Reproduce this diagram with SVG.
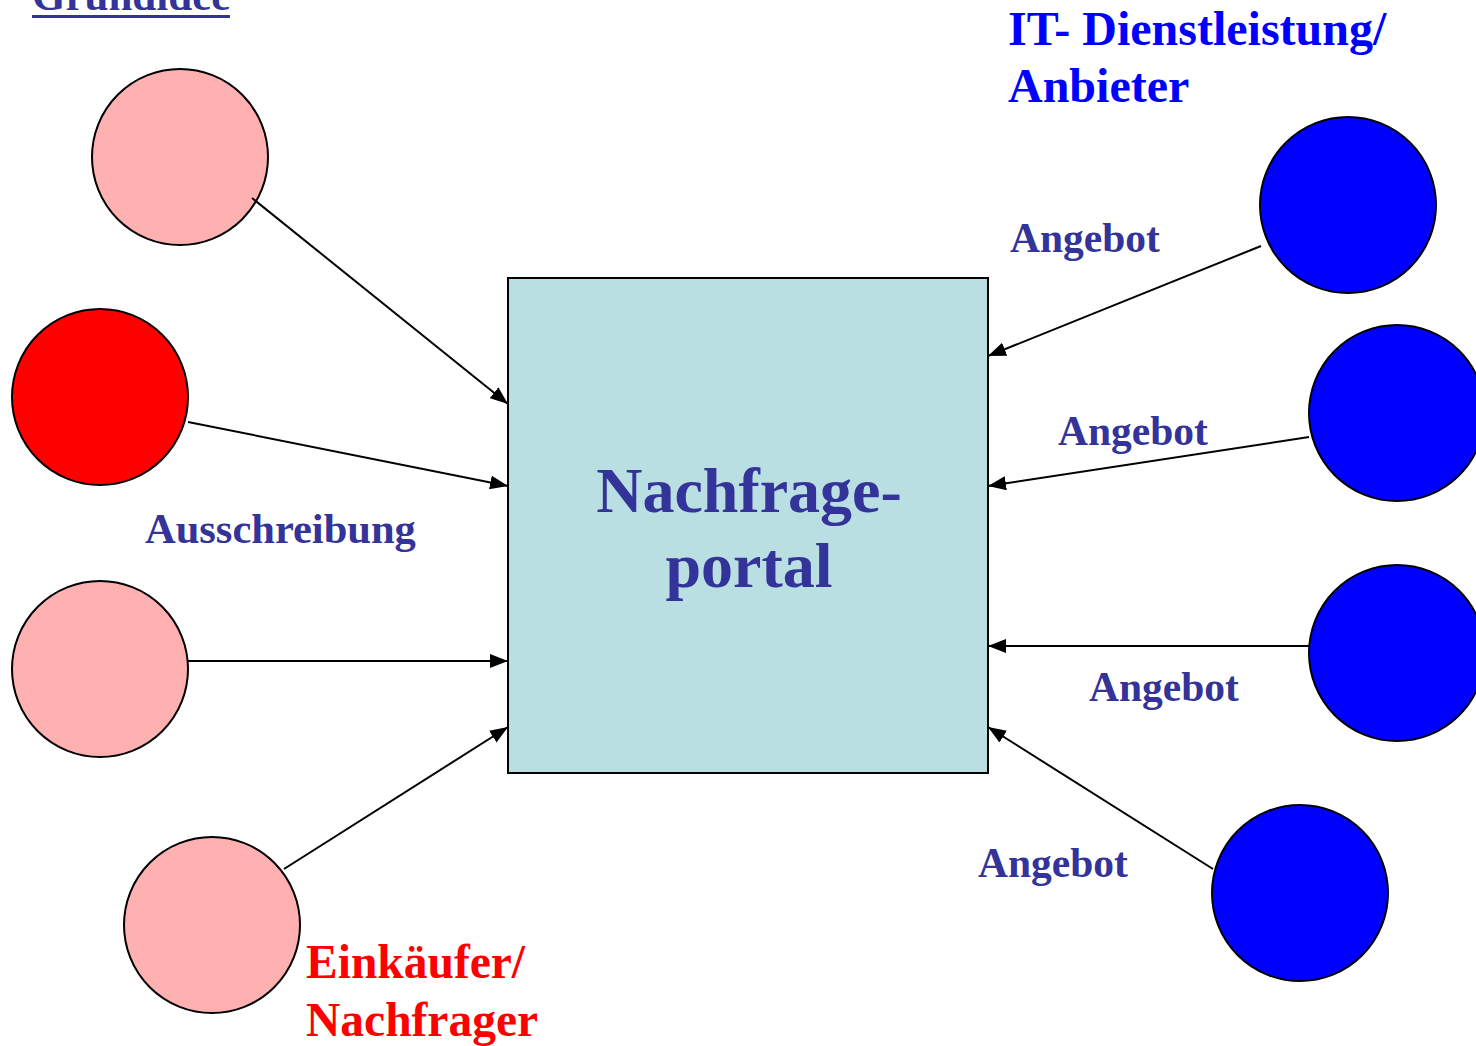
<svg xmlns="http://www.w3.org/2000/svg" width="1476" height="1046" viewBox="0 0 1476 1046">
<defs>
<marker id="arr" markerUnits="userSpaceOnUse" markerWidth="18" markerHeight="14" viewBox="0 0 18 14" refX="18" refY="7" orient="auto">
<path d="M0,0 L18,7 L0,14 Z" fill="#000"/>
</marker>
<style>
.t{font-family:"Liberation Serif","Times New Roman",serif;font-weight:bold;}
.navy{fill:#333399;}
.circ{stroke:#000;stroke-width:2;}
.pink{fill:#FFB0B0;}
.red{fill:#FF0000;}
.blue{fill:#0000FF;}
.edge{stroke:#000;stroke-width:2;fill:none;marker-end:url(#arr);}
</style>
</defs>
<rect width="1476" height="1046" fill="#fff"/>
<g id="title">
<text class="t navy" x="32" y="10" font-size="43">Grundidee</text>
<rect x="32" y="15" width="198" height="3" fill="#333399"/>
</g>
<g id="portal">
<rect x="508" y="278" width="480" height="495" fill="#B9DFE3" stroke="#000" stroke-width="2"/>
<text class="t navy" x="749" y="512" font-size="64" text-anchor="middle">Nachfrage-</text>
<text class="t navy" x="749" y="587" font-size="64" text-anchor="middle">portal</text>
</g>
<g id="n1"><circle class="circ pink" cx="180" cy="157" r="88"/></g>
<g id="n2"><circle class="circ red" cx="100" cy="397" r="88"/></g>
<g id="n3"><circle class="circ pink" cx="100" cy="669" r="88"/></g>
<g id="n4"><circle class="circ pink" cx="212" cy="925" r="88"/></g>
<g id="a1"><circle class="circ blue" cx="1348" cy="205" r="88"/></g>
<g id="a2"><circle class="circ blue" cx="1397" cy="413" r="88"/></g>
<g id="a3"><circle class="circ blue" cx="1397" cy="653" r="88"/></g>
<g id="a4"><circle class="circ blue" cx="1300" cy="893" r="88"/></g>
<g id="connectors">
<line class="edge" x1="252" y1="198" x2="508" y2="404"/>
<line class="edge" x1="188" y1="422" x2="508" y2="486"/>
<line class="edge" x1="188" y1="661" x2="508" y2="661"/>
<line class="edge" x1="284" y1="869" x2="508" y2="727"/>
<line class="edge" x1="1261" y1="246" x2="988" y2="356"/>
<line class="edge" x1="1309" y1="437" x2="988" y2="486"/>
<line class="edge" x1="1309" y1="646" x2="988" y2="646"/>
<line class="edge" x1="1213" y1="869" x2="988" y2="727"/>
</g>
<g id="labels">
<text class="t navy" x="145" y="543" font-size="42.5">Ausschreibung</text>
<text class="t navy" x="1010" y="252" font-size="41.5">Angebot</text>
<text class="t navy" x="1058" y="445" font-size="41.5">Angebot</text>
<text class="t navy" x="1089" y="701" font-size="41.5">Angebot</text>
<text class="t navy" x="978" y="877" font-size="41.5">Angebot</text>
<text class="t" x="1008" y="45" font-size="48" fill="#0000FF">IT- Dienstleistung/</text>
<text class="t" x="1008" y="102" font-size="48" fill="#0000FF">Anbieter</text>
<text class="t" x="306" y="978" font-size="47.5" fill="#FF0000">Einkäufer/</text>
<text class="t" x="306" y="1036" font-size="47.5" fill="#FF0000">Nachfrager</text>
</g>
</svg>
